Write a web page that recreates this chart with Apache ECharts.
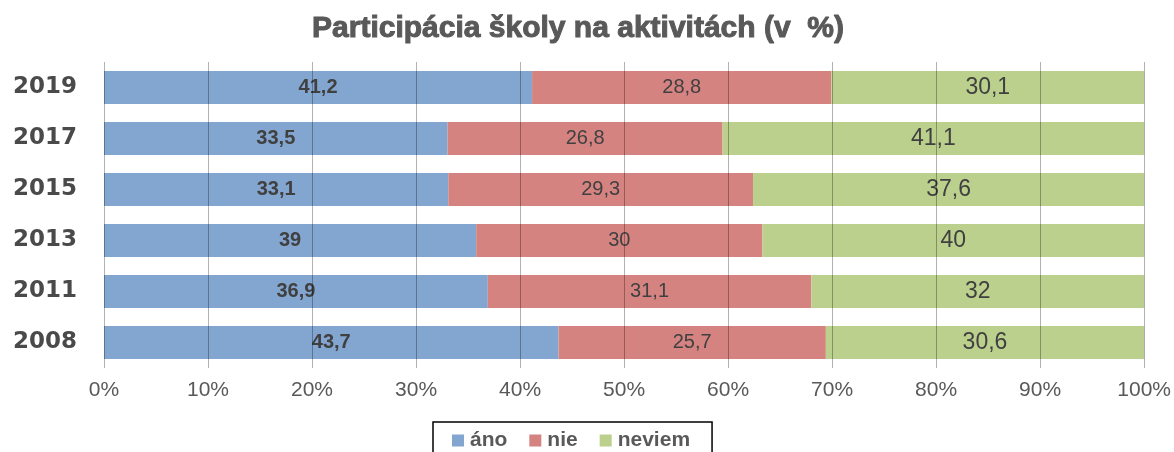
<!DOCTYPE html>
<html>
<head>
<meta charset="utf-8">
<script src="https://cdn.jsdelivr.net/npm/echarts@6/dist/echarts.min.js"></script>
<style>
  html, body { margin: 0; padding: 0; background: #fff; }
  #chart { width: 1174px; height: 452px; }
</style>
</head>
<body>
<div id="chart"></div>
<script>
// roky odspodu nahor (ECharts kreslí prvú kategóriu dole)
var years = ['2008', '2011', '2013', '2015', '2017', '2019']
var ano = [43.7, 36.9, 39, 33.1, 33.5, 41.2]
var nie = [25.7, 31.1, 30, 29.3, 26.8, 28.8]
var neviem = [30.6, 32, 40, 37.6, 41.1, 30.1]
var xTicks = [0, 10, 20, 30, 40, 50, 60, 70, 80, 90, 100]

// 100 % skladaný graf: podiel z riadkového súčtu
function share(arr) {
    return arr.map(function (v, i) {
        var total = ano[i] + nie[i] + neviem[i]
        return v / total * 100
    })
}

function fmt(arr) {
    return function (p) {
        return String(arr[p.dataIndex]).replace('.', ',')
    }
}

var chart = echarts.init(document.getElementById('chart'))
var option = {
    animation: false,
    title: {
        text: 'Participácia školy na aktivitách (v  %)',
        left: 573,
        textAlign: 'center',
        top: 9,
        textStyle: {
            fontFamily: 'Liberation Sans',
            fontSize: 30,
            fontWeight: 'bold',
            color: '#595959',
            textBorderColor: '#595959',
            textBorderWidth: 1
        }
    },
    legend: {
        left: 433,
        top: 422,
        padding: [8, 22, 16, 19],
        borderColor: '#000',
        borderWidth: 1.5,
        itemWidth: 12,
        itemHeight: 12,
        itemGap: 22,
        icon: 'rect',
        textStyle: {
            fontFamily: 'Liberation Sans',
            fontSize: 21,
            fontWeight: 'bold',
            color: '#595959',
            padding: [0, 0, 0, 1]
        },
        data: ['áno', 'nie', 'neviem']
    },
    grid: {
        left: 104,
        right: 29,
        top: 62,
        bottom: 84
    },
    xAxis: {
        type: 'value',
        min: xTicks[0],
        max: xTicks[xTicks.length - 1],
        interval: 10,
        z: 3,
        axisLine: { show: false },
        axisTick: { show: false },
        splitLine: {
            show: true,
            lineStyle: { color: 'rgba(0,0,0,0.3)', width: 1 }
        },
        axisLabel: {
            margin: 12,
            fontFamily: 'Liberation Sans',
            fontSize: 21,
            color: '#595959',
            formatter: '{value}%'
        }
    },
    yAxis: {
        type: 'category',
        data: years,
        axisLine: { show: false },
        axisTick: { show: false },
        axisLabel: {
            margin: 27,
            fontFamily: 'DejaVu Sans',
            fontWeight: 'bold',
            fontSize: 23,
            color: '#4a4a4a'
        }
    },
    series: [
        {
            name: 'áno',
            type: 'bar',
            stack: 'spolu',
            barWidth: 33,
            itemStyle: { color: '#82A6D0' },
            label: {
                show: true,
                position: 'inside',
                fontFamily: 'Liberation Sans',
                fontWeight: 'bold',
                fontSize: 20,
                color: '#404040',
                formatter: fmt(ano)
            },
            data: share(ano)
        },
        {
            name: 'nie',
            type: 'bar',
            stack: 'spolu',
            barWidth: 33,
            itemStyle: { color: '#D58381' },
            label: {
                show: true,
                position: 'inside',
                fontFamily: 'Liberation Sans',
                fontSize: 20,
                color: '#404040',
                formatter: fmt(nie)
            },
            data: share(nie)
        },
        {
            name: 'neviem',
            type: 'bar',
            stack: 'spolu',
            barWidth: 33,
            itemStyle: { color: '#BCD08D' },
            label: {
                show: true,
                position: 'inside',
                fontFamily: 'Liberation Sans',
                fontSize: 23,
                color: '#404040',
                formatter: fmt(neviem)
            },
            data: share(neviem)
        }
    ]
}
option && chart.setOption(option)
</script>
</body>
</html>
